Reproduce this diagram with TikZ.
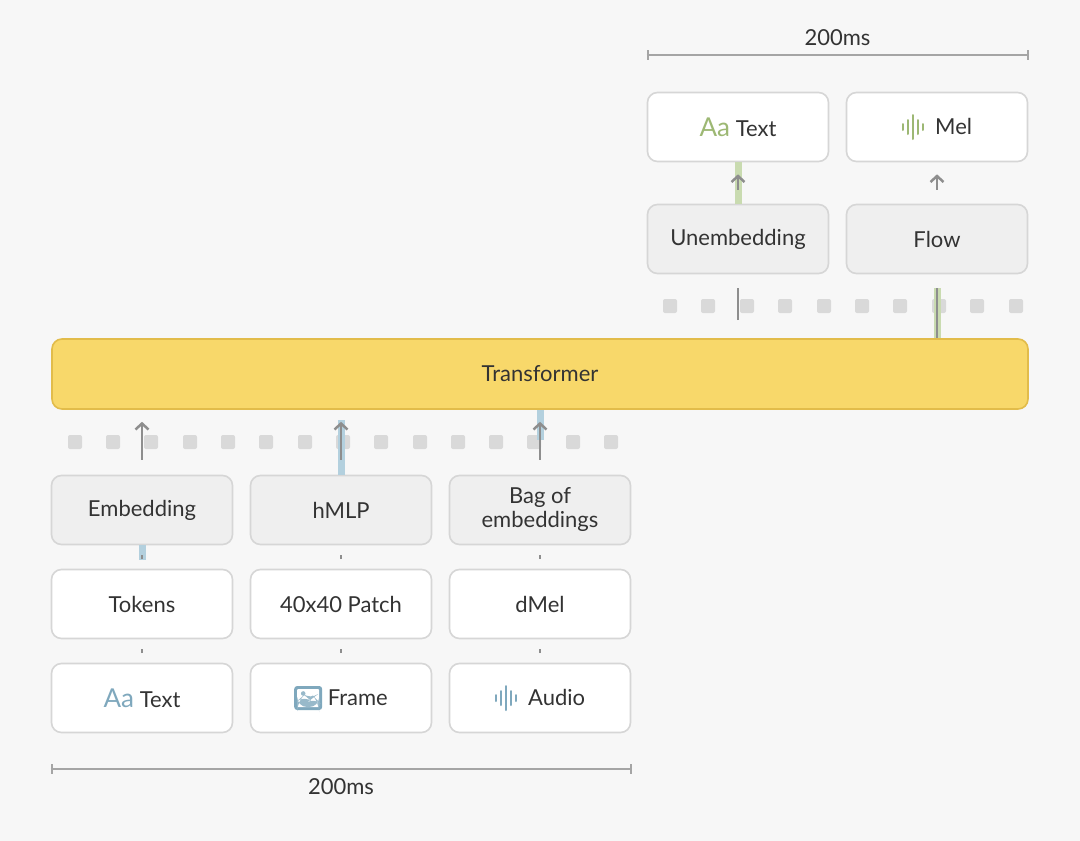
\documentclass[tikz,border=0pt]{standalone}
\usepackage{fontspec}
\setmainfont{Lato}
\usetikzlibrary{positioning, calc, arrows.meta}
\definecolor{bgcol}{HTML}{F7F7F7}
\definecolor{edgecol}{HTML}{D6D6D6}
\definecolor{inkcol}{HTML}{333333}
\definecolor{graycol}{HTML}{EFEFEF}
\definecolor{dotcol}{HTML}{D9D9D9}
\definecolor{arrcol}{HTML}{8E8E8E}
\definecolor{bluecol}{HTML}{7FA8BD}
\definecolor{bluehl}{HTML}{B3D0DE}
\definecolor{greencol}{HTML}{9DB874}
\definecolor{greenhl}{HTML}{C9DBB0}
\definecolor{yellowcol}{HTML}{F8D86A}
\definecolor{yellowedge}{HTML}{E2BC4A}
\tikzset{
  box/.style={rectangle, draw=edgecol, line width=1.6pt, fill=white, rounded corners=10pt,
    minimum width=181pt, minimum height=69pt, text=inkcol, align=center,
    font=\fontsize{22}{24}\selectfont},
  graybox/.style={box, fill=graycol},
  tick/.style={draw=arrcol, line width=2.5pt, shorten <=9.5pt, shorten >=9.5pt},
  uparrow/.style={draw=arrcol, line width=2.5pt, -{Straight Barb[length=6pt,width=13pt,line width=2.5pt]}},
  blueline/.style={draw=bluehl, line width=7pt},
  greenline/.style={draw=greenhl, line width=7pt},
  dot/.style={fill=dotcol, rounded corners=2pt},
  dimline/.style={draw=arrcol!80, line width=1.2pt},
}
\newcommand\waveicon[1]{\tikz[baseline=-7.5pt,x=1pt,y=1pt]
  \foreach \xo/\hh in {0/3,5/7,10/12,15/7,20/3}
    \draw[#1, line width=2pt, line cap=round] (\xo,-\hh) -- (\xo,\hh);}
\newcommand\frameicon{\tikz[baseline=-7.5pt,x=1pt,y=1pt]{
  \fill[bluecol, rounded corners=3pt] (-14,-12) rectangle (14,12);
  \fill[white, rounded corners=1pt] (-11,-9) rectangle (11,9);
  \fill[bluecol!80] (-11,-9) -- (-11,-3) -- (-4,3) -- (2,-2) -- (6,1) -- (11,-4) -- (11,-9) -- cycle;
  \fill[bluecol!80] (-5,4.5) circle (2.3pt);}}
\begin{document}
\begin{tikzpicture}[x=1pt, y=-1pt]
  \fill[bgcol] (0,0) rectangle (1080,841);
  \useasboundingbox (0,0) rectangle (1080,841);
  % token dots
  \foreach \xx in {75,113,151,190,228,266,305,343,381,420,458,496,534,573,611} \fill[dot] (\xx-7,435) rectangle (\xx+7,449);
  \foreach \xx in {670,708,747,785,824,862,900,939,977,1016} \fill[dot] (\xx-7,299) rectangle (\xx+7,313);
  % Place nodes
  \node[box] (txt) at (142,698) {\textcolor{bluecol}{\fontsize{26}{26}\selectfont Aa} Text};
  \node[box] (frame) at (341,698) {\frameicon\ Frame};
  \node[box] (audio) at (540,698) {\waveicon{bluecol}\ \ Audio};
  \node[box] (tokens) at (142,604) {Tokens};
  \node[box] (patch) at (341,604) {40x40 Patch};
  \node[box] (dmel) at (540,604) {dMel};
  \node[graybox] (embed) at (142,510) {Embedding};
  \node[graybox] (hmlp) at (341,510) {hMLP};
  \node[graybox] (bag) at (540,510) {Bag of\\embeddings};
  \node[box, fill=yellowcol, draw=yellowedge, minimum width=976pt, minimum height=70pt]
    (trans) at (540,374) {Transformer};
  \node[graybox] (unembed) at (738,239) {Unembedding};
  \node[graybox] (flow) at (937,239) {Flow};
  \node[box] (outtxt) at (738,127) {\textcolor{greencol}{\fontsize{26}{26}\selectfont Aa} Text};
  \node[box] (mel) at (937,127) {\waveicon{greencol}\ \ Mel};
  % highlights
  \path[blueline] (embed.south) -- ++(0,15);
  \path[blueline] (hmlp.north) -- ++(0,-55);
  \path[blueline] (trans.south -| bag.north) -- ++(0,30);
  \path[greenline] (unembed.north) -- (outtxt.south);
  \path[greenline] (trans.north -| flow.south) -- ++(0,-50);
  % Draw edges
  \path[tick] (txt) -- (tokens);
  \path[tick] (frame) -- (patch);
  \path[tick] (audio) -- (dmel);
  \path[tick] (tokens) -- (embed);
  \path[tick] (patch) -- (hmlp);
  \path[tick] (dmel) -- (bag);
  \foreach \src in {embed, hmlp, bag}
    \path[uparrow, shorten <=15pt, shorten >=12pt] (\src.north) -- (trans.south -| \src.north);
  \path[draw=arrcol, line width=2.5pt] ($(trans.north -| unembed.south)+(0,-18)$) coordinate (ua) -- ++(0,-32);
  \path[draw=arrcol, line width=2.5pt] (trans.north -| flow.south) coordinate (fa) -- ++(0,-50);
  \path[uparrow, shorten <=14pt, shorten >=12pt] (unembed.north) -- (outtxt.south);
  \path[uparrow, shorten <=14pt, shorten >=12pt] (flow.north) -- (mel.south);
  % time spans
  \draw[dimline] (outtxt.north west |- 0,55) -- (mel.north east |- 0,55) node[midway, above=5pt, text=inkcol, font=\fontsize{22}{24}\selectfont] {200ms};
  \draw[dimline] (648,50) -- (648,60) (1028,50) -- (1028,60);
  \draw[dimline] (txt.south west |- 0,769) -- (audio.south east |- 0,769) node[midway, below=6pt, text=inkcol, font=\fontsize{22}{24}\selectfont] {200ms};
  \draw[dimline] (52,764) -- (52,774) (631,764) -- (631,774);
\end{tikzpicture}
\end{document}
